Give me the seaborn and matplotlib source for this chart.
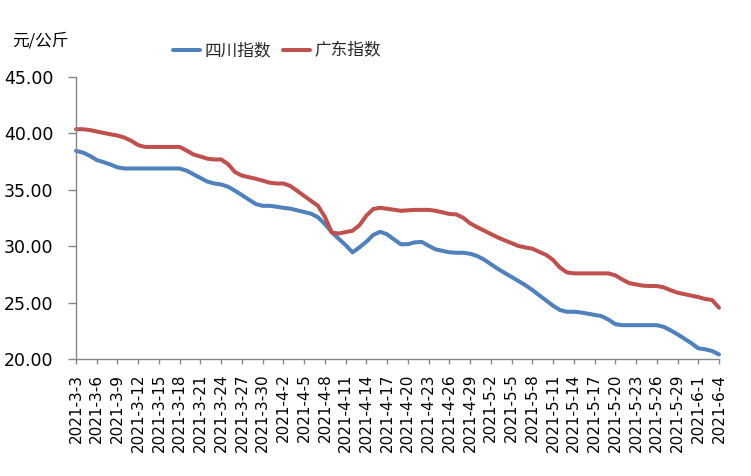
import matplotlib
matplotlib.use("Agg")
import matplotlib.pyplot as plt
import numpy as np
import pandas as pd
import seaborn as sns

# ---------------- data ----------------
dates = pd.date_range("2021-03-03", "2021-06-04", freq="D")
date_labels = [f"{d.year}-{d.month}-{d.day}" for d in dates]

sichuan = [38.45, 38.30, 38.01, 37.64, 37.45, 37.24, 36.99, 36.89, 36.89, 36.89,
           36.89, 36.89, 36.89, 36.89, 36.89, 36.89, 36.70, 36.37, 36.05, 35.73,
           35.56, 35.47, 35.27, 34.92, 34.53, 34.13, 33.74, 33.58, 33.58, 33.50,
           33.40, 33.33, 33.18, 33.03, 32.88, 32.57, 31.96, 31.25, 30.65, 30.10,
           29.45, 29.90, 30.40, 31.00, 31.28, 31.05, 30.60, 30.17, 30.18, 30.34,
           30.38, 30.04, 29.72, 29.59, 29.46, 29.42, 29.42, 29.33, 29.14, 28.82,
           28.41, 28.00, 27.63, 27.27, 26.91, 26.54, 26.12, 25.65, 25.19, 24.72,
           24.34, 24.19, 24.19, 24.13, 24.02, 23.91, 23.80, 23.50, 23.09, 23.00,
           23.00, 23.00, 23.00, 23.00, 23.00, 22.85, 22.54, 22.19, 21.80, 21.40,
           20.95, 20.86, 20.71, 20.40]

guangdong = [40.37, 40.37, 40.30, 40.17, 40.04, 39.92, 39.81, 39.63, 39.34, 38.96,
             38.80, 38.80, 38.80, 38.80, 38.80, 38.80, 38.48, 38.13, 37.95, 37.76,
             37.69, 37.69, 37.27, 36.57, 36.26, 36.12, 35.98, 35.81, 35.63, 35.56,
             35.56, 35.34, 34.90, 34.46, 34.02, 33.58, 32.60, 31.20, 31.13, 31.25,
             31.37, 31.86, 32.71, 33.30, 33.40, 33.32, 33.23, 33.14, 33.18, 33.22,
             33.22, 33.22, 33.14, 33.00, 32.86, 32.82, 32.52, 32.03, 31.69, 31.39,
             31.08, 30.78, 30.52, 30.27, 30.02, 29.89, 29.78, 29.50, 29.23, 28.78,
             28.10, 27.68, 27.59, 27.59, 27.59, 27.59, 27.59, 27.59, 27.42, 27.05,
             26.73, 26.61, 26.50, 26.47, 26.47, 26.35, 26.10, 25.88, 25.75, 25.62,
             25.49, 25.32, 25.23, 24.55]

series_names = ["四川指数", "广东指数"]
colors = ["#4F81BD", "#C0504D"]
y_ticks = [20, 25, 30, 35, 40, 45]
unit_label = "元/公斤"

assert len(sichuan) == len(dates) == len(guangdong)

# ---------------- figure ----------------
sns.set_theme(style="white")
plt.rcParams["font.family"] = ["DejaVu Sans", "Noto Sans CJK SC"]

df = pd.DataFrame({
    "idx": list(range(len(dates))) * 2,
    "value": sichuan + guangdong,
    "series": [series_names[0]] * len(dates) + [series_names[1]] * len(dates),
})

fig = plt.figure(figsize=(7.51, 4.76), dpi=100)
ax = fig.add_axes([76 / 751, 1 - 359 / 476, (719 - 76) / 751, (359 - 77) / 476])

sns.lineplot(data=df, x="idx", y="value", hue="series", palette=colors,
             linewidth=2.9, ax=ax, legend=False)
for ln in ax.lines:
    ln.set_solid_capstyle("round")
    ln.set_solid_joinstyle("round")
    ln.set_clip_on(False)

ax.set_xlim(0, len(dates) - 1)
ax.set_ylim(20, 45)
ax.set_xlabel("")
ax.set_ylabel("")

tick_pos = list(range(0, len(dates), 3))
ax.set_xticks(tick_pos)
ax.set_xticklabels([date_labels[i] for i in tick_pos], rotation=90,
                   fontsize=11, color="black")
ax.set_yticks(y_ticks)
ax.set_yticklabels([f"{v:.2f}" for v in y_ticks], fontsize=12.5, color="black")

for side in ["top", "right"]:
    ax.spines[side].set_visible(False)
for side in ["left", "bottom"]:
    ax.spines[side].set_color("#868686")
    ax.spines[side].set_linewidth(1.0)

ax.tick_params(axis="y", direction="out", length=5.5, width=1.0,
               color="#868686", pad=11, left=True)
ax.tick_params(axis="x", direction="out", length=3.6, width=1.0,
               color="#868686", pad=7, bottom=True)
ax.grid(False)

# legend
from matplotlib.lines import Line2D
handles = [Line2D([0], [0], color=c, linewidth=2.9, solid_capstyle="round")
           for c in colors]
leg = ax.legend(handles, series_names, loc="center",
                bbox_to_anchor=(277 / 751, 1 - 51 / 476),
                bbox_transform=fig.transFigure, ncol=2, frameon=False,
                prop={"family": ["Noto Sans CJK SC", "DejaVu Sans"], "size": 12},
                handlelength=1.6, handletextpad=0.3, columnspacing=0.7,
                borderpad=0.0)

fig.text(12 / 751, 1 - 41 / 476, unit_label, ha="left", va="center",
         fontsize=12, family=["Noto Sans CJK SC", "DejaVu Sans"], color="black")

fig.savefig("out.png", dpi=100)
